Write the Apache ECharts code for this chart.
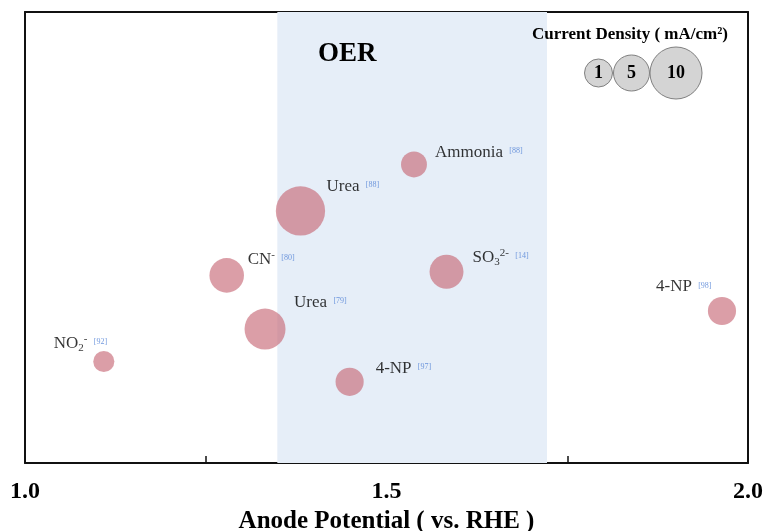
<!DOCTYPE html>
<html>
<head>
<meta charset="utf-8">
<script src="https://cdn.jsdelivr.net/npm/echarts@6/dist/echarts.min.js"></script>
<style>html,body{margin:0;padding:0;background:#fff}#c{width:766px;height:531px}</style>
</head>
<body>
<div id="c"></div>
<script>
// ---- data ----
var species   = ['NO2-', 'CN-', 'Urea', 'Urea', '4-NP', 'Ammonia', 'SO32-', '4-NP'];
var refs      = ['[92]', '[80]', '[79]', '[88]', '[97]', '[88]', '[14]', '[98]'];
var potential = [1.109, 1.279, 1.332, 1.381, 1.449, 1.538, 1.583, 1.964];
var yLevel    = [2.25, 4.16, 2.97, 5.59, 1.80, 6.62, 4.24, 3.37];
var density   = [1.6, 5.8, 7.8, 10.4, 3.8, 3.1, 5.6, 3.8];
var oerRange  = [1.349, 1.722];
var xTicks    = [1.0, 1.5, 2.0];
var legendDensity = [1, 5, 10];

// ---- layout / style (not data) ----
var labelOffsets = [[-50,-18],[21,-16],[29,-27],[26,-24],[26,-13],[21,-12],[26,-14],[-66,-24]];
var richName = {
  'NO2-': '{m|NO}{sub|2}{sup|-}',
  'CN-': '{m|CN}{sup|-}',
  'SO32-': '{m|SO}{sub|3}{sup|2-}'
};
var serif = '"Liberation Serif","Times New Roman",serif';

var data = species.map(function (s, i) {
  return {
    value: [potential[i], yLevel[i], density[i]],
    label: {
      offset: labelOffsets[i],
      formatter: (richName[s] || '{m|' + s + '}') + ' {ref|' + refs[i] + '}'
    }
  };
});

var chart = echarts.init(document.getElementById('c'), null, {renderer: 'canvas'});
var legendR = [14, 18, 26];
var legendCx = [598.5, 631.5, 676];
var graphics = [{
  type: 'text', left: 532, top: 26, z: 100,
  style: {text: 'Current Density ( mA/cm²)', font: 'bold 17px ' + serif, fill: '#000'}
}, {
  type: 'text', left: 318, top: 41, z: 100,
  style: {text: 'OER', font: 'bold 27px ' + serif, fill: '#000'}
}];
legendDensity.forEach(function (d, i) {
  graphics.push({
    type: 'circle', shape: {cx: legendCx[i], cy: 73, r: legendR[i]},
    style: {fill: '#d4d4d4', stroke: '#808080', lineWidth: 1}, z: 100
  });
  graphics.push({
    type: 'text', x: legendCx[i], y: 73, z: 101,
    style: {text: String(d), font: 'bold 18px ' + serif, fill: '#000', align: 'center', verticalAlign: 'middle'}
  });
});

var axisLineStyle = {show: true, onZero: false, lineStyle: {color: '#111', width: 2}};
var noBorder = {textBorderWidth: 0, textBorderColor: 'transparent', textShadowBlur: 0};

function rs(o) { return Object.assign({}, noBorder, o); }

chart.setOption({
  animation: false,
  backgroundColor: '#fff',
  grid: {left: 25, right: 18, top: 12, bottom: 68, containLabel: false, outerBoundsMode: 'none'},
  xAxis: [{
    type: 'value', min: 1, max: 2, interval: 0.25,
    name: 'Anode Potential ( vs. RHE )', nameLocation: 'middle', nameGap: 45,
    nameTextStyle: {fontFamily: serif, fontWeight: 'bold', fontSize: 25, color: '#000'},
    axisLine: axisLineStyle,
    axisTick: {show: true, inside: true, length: 7, lineStyle: {color: '#111', width: 1.5}},
    axisLabel: {
      margin: 17, fontFamily: serif, fontWeight: 'bold', fontSize: 24, color: '#000',
      formatter: function (v) {
        for (var k = 0; k < xTicks.length; k++) if (Math.abs(v - xTicks[k]) < 1e-6) return v.toFixed(1);
        return '';
      }
    },
    splitLine: {show: false}
  }, {
    type: 'value', min: 1, max: 2, position: 'top',
    axisLine: axisLineStyle,
    axisTick: {show: false}, axisLabel: {show: false}, splitLine: {show: false}
  }],
  yAxis: [{
    type: 'value', min: 0, max: 10,
    axisLine: axisLineStyle,
    axisTick: {show: false}, axisLabel: {show: false}, splitLine: {show: false}
  }, {
    type: 'value', min: 0, max: 10, position: 'right',
    axisLine: axisLineStyle,
    axisTick: {show: false}, axisLabel: {show: false}, splitLine: {show: false}
  }],
  series: [{
    type: 'scatter',
    data: data,
    symbolSize: function (v) { return 2 * (8 + 1.6 * v[2]); },
    itemStyle: {color: 'rgba(197,100,114,0.78)'},
    label: {
      show: true, position: 'inside', align: 'left', verticalAlign: 'middle',
      color: '#000', textBorderWidth: 0, textBorderColor: 'transparent',
      rich: {
        m: rs({fontFamily: serif, fontSize: 17, color: '#000', lineHeight: 20}),
        sub: rs({fontFamily: serif, fontSize: 11, color: '#000', verticalAlign: 'bottom', lineHeight: 20, padding: [6, 0, 0, 0]}),
        sup: rs({fontFamily: serif, fontSize: 11, color: '#000', verticalAlign: 'top', lineHeight: 20, padding: [0, 0, 8, 0]}),
        ref: rs({fontFamily: serif, fontSize: 8, color: '#4f7fd6', verticalAlign: 'middle', lineHeight: 20, padding: [0, 0, 3, 3]})
      }
    },
    markArea: {
      silent: true,
      itemStyle: {color: 'rgb(230,238,248)'},
      data: [[{xAxis: oerRange[0], yAxis: 0}, {xAxis: oerRange[1], yAxis: 10}]]
    },
    z: 3
  }],
  graphic: graphics
});
</script>
</body>
</html>
